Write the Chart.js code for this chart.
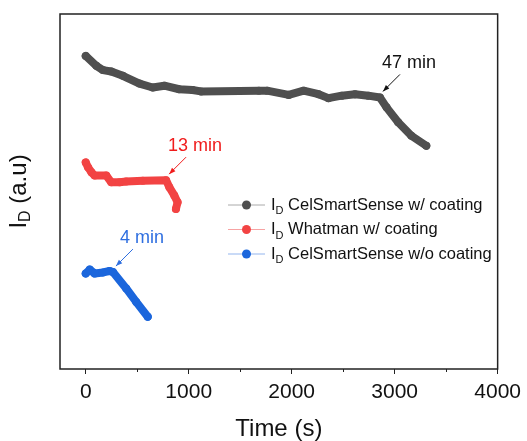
<!DOCTYPE html>
<html>
<head>
<meta charset="utf-8">
<script src="https://cdn.jsdelivr.net/npm/chart.js@4"></script>
<style>
  html, body { margin: 0; padding: 0; background: #fff; }
  #chart { display: block; }
</style>
</head>
<body>
<canvas id="chart" width="527" height="441"></canvas>
<script>
// DATA

const xTicks = [0, 1000, 2000, 3000, 4000];
const xMinor = [500, 1500, 2500, 3500];

const timeCel = [0, 103, 167, 248, 360, 522, 650, 763, 908, 1037, 1118, 1681, 1761, 1971, 2116, 2261, 2357, 2486, 2615, 2744, 2857, 2921, 3034, 3162, 3307];
const idCel = [88.2, 85.4, 84.2, 83.8, 82.6, 80.4, 79.3, 79.8, 78.8, 78.6, 78.2, 78.4, 78.4, 77.2, 78.4, 77.4, 76.3, 77.0, 77.4, 77.0, 76.5, 73.7, 69.5, 65.7, 62.9];

const timeWhat = [0, 22, 55, 87, 200, 248, 329, 393, 554, 780, 812, 860, 892, 876];
const idWhat = [58.2, 56.8, 55.4, 54.5, 54.5, 52.6, 52.6, 52.8, 53.0, 53.2, 51.2, 48.9, 47.0, 45.1];

const timeBare = [0, 39, 87, 167, 232, 264, 393, 490, 602];
const idBare = [26.9, 28.0, 26.9, 27.2, 27.6, 27.3, 22.7, 18.9, 14.7];

const seriesNames = ['CelSmartSense w/ coating', 'Whatman w/ coating', 'CelSmartSense w/o coating'];
const noteLabels = ['47 min', '13 min', '4 min'];
const noteIndex = [20, 9, 5];

// STYLE

const mainColors = ['#4f4f4f', '#f24343', '#1b66dc'];
const lightColors = ['#aaaaaa', '#f7a3a3', '#93b5ee'];
const noteColors = ['#111111', '#f01c1c', '#2f6fe0'];
const FONT = '"Liberation Sans", Arial, sans-serif';

function pts(xs, ys) { return xs.map((x, i) => ({x: x, y: ys[i]})); }

function ds(i, xs, ys) {
  return {
    label: seriesNames[i],
    data: pts(xs, ys),
    borderColor: mainColors[i],
    backgroundColor: mainColors[i],
    borderWidth: 8,
    borderCapStyle: 'round',
    borderJoinStyle: 'round',
    pointRadius: 4,
    pointBorderWidth: 0,
    pointHoverRadius: 4,
    tension: 0,
  };
}

const decor = {
  id: 'decor',
  afterDraw(chart) {
    const c = chart.ctx, a = chart.chartArea;
    const xs = chart.scales.x, ys = chart.scales.y;
    c.save();

    // frame
    c.strokeStyle = '#222';
    c.lineWidth = 1.5;
    c.strokeRect(a.left, a.top, a.right - a.left, a.bottom - a.top);

    // minor ticks
    c.lineWidth = 1;
    xMinor.forEach(v => {
      const px = Math.round(xs.getPixelForValue(v)) + 0.5;
      c.beginPath(); c.moveTo(px, a.bottom); c.lineTo(px, a.bottom + 3); c.stroke();
    });

    // y title with subscript
    c.save();
    c.translate(19, (a.top + a.bottom) / 2);
    c.rotate(-Math.PI / 2);
    c.fillStyle = '#111';
    c.textBaseline = 'middle';
    c.font = '24px ' + FONT;
    const w1 = c.measureText('I').width;
    c.font = '16px ' + FONT;
    const w2 = c.measureText('D').width;
    c.font = '24px ' + FONT;
    const w3 = c.measureText(' (a.u)').width;
    let sx = -(w1 + w2 + w3) / 2;
    c.fillText('I', sx, 0); sx += w1;
    c.font = '16px ' + FONT;
    c.fillText('D', sx, 7); sx += w2;
    c.font = '24px ' + FONT;
    c.fillText(' (a.u)', sx, 0);
    c.restore();

    // annotations
    const sets = [[timeCel, idCel], [timeWhat, idWhat], [timeBare, idBare]];
    noteLabels.forEach((txt, i) => {
      const k = noteIndex[i];
      const px = xs.getPixelForValue(sets[i][0][k]);
      const py = ys.getPixelForValue(sets[i][1][k]);
      const tip = [px + 3, py - 6], tail = [px + 20, py - 23];
      c.strokeStyle = noteColors[i];
      c.fillStyle = noteColors[i];
      c.lineWidth = 1;
      c.beginPath(); c.moveTo(tail[0], tail[1]); c.lineTo(tip[0], tip[1]); c.stroke();
      const ang = Math.atan2(tip[1] - tail[1], tip[0] - tail[0]);
      c.beginPath();
      c.moveTo(tip[0], tip[1]);
      c.lineTo(tip[0] - 7 * Math.cos(ang - 0.35), tip[1] - 7 * Math.sin(ang - 0.35));
      c.lineTo(tip[0] - 7 * Math.cos(ang + 0.35), tip[1] - 7 * Math.sin(ang + 0.35));
      c.closePath(); c.fill();
      c.font = '18px ' + FONT;
      c.textAlign = 'center';
      c.textBaseline = 'middle';
      c.fillText(txt, px + 29, py - 34);
    });

    // legend
    c.textAlign = 'left';
    c.textBaseline = 'middle';
    seriesNames.forEach((name, i) => {
      const y = 205 + i * 24.5;
      c.strokeStyle = lightColors[i];
      c.lineWidth = 1;
      c.beginPath(); c.moveTo(228, y); c.lineTo(265, y); c.stroke();
      c.fillStyle = mainColors[i];
      c.beginPath(); c.arc(246.5, y, 4.5, 0, Math.PI * 2); c.fill();
      c.fillStyle = '#111';
      c.font = '16.5px ' + FONT;
      c.fillText('I', 271, y);
      let x = 271 + c.measureText('I').width;
      c.font = '11px ' + FONT;
      c.fillText('D', x, y + 6);
      x += c.measureText('D').width;
      c.font = '16.5px ' + FONT;
      c.fillText(' ' + name, x, y);
    });

    c.restore();
  }
};

// CHART

const ctx = document.getElementById('chart');

const myChart = new Chart(ctx, {
  type: 'line',
  data: {
    datasets: [
      ds(0, timeCel, idCel),
      ds(1, timeWhat, idWhat),
      ds(2, timeBare, idBare),
    ]
  },
  options: {
    responsive: false,
    animation: false,
    layout: {padding: {top: 14, right: 27, left: 0, bottom: 0}},
    plugins: {
      legend: {display: false},
      tooltip: {enabled: false},
    },
    scales: {
      x: {
        type: 'linear',
        min: -250,
        max: 4000,
        afterBuildTicks: s => { s.ticks = xTicks.map(v => ({value: v})); },
        afterFit: s => { s.height = 72; },
        grid: {display: true, drawOnChartArea: false, drawTicks: true, tickLength: 5, color: '#222'},
        border: {display: false},
        ticks: {color: '#111', font: {family: FONT, size: 21}, padding: 6, maxRotation: 0, callback: v => String(v)},
        title: {display: true, text: 'Time (s)', color: '#111', font: {family: FONT, size: 24, lineHeight: 1}, padding: 0},
      },
      y: {
        type: 'linear',
        min: 0,
        max: 100,
        afterFit: s => { s.width = 60; },
        grid: {display: false},
        border: {display: false},
        ticks: {display: false},
      }
    }
  },
  plugins: [decor]
});
</script>
</body>
</html>
